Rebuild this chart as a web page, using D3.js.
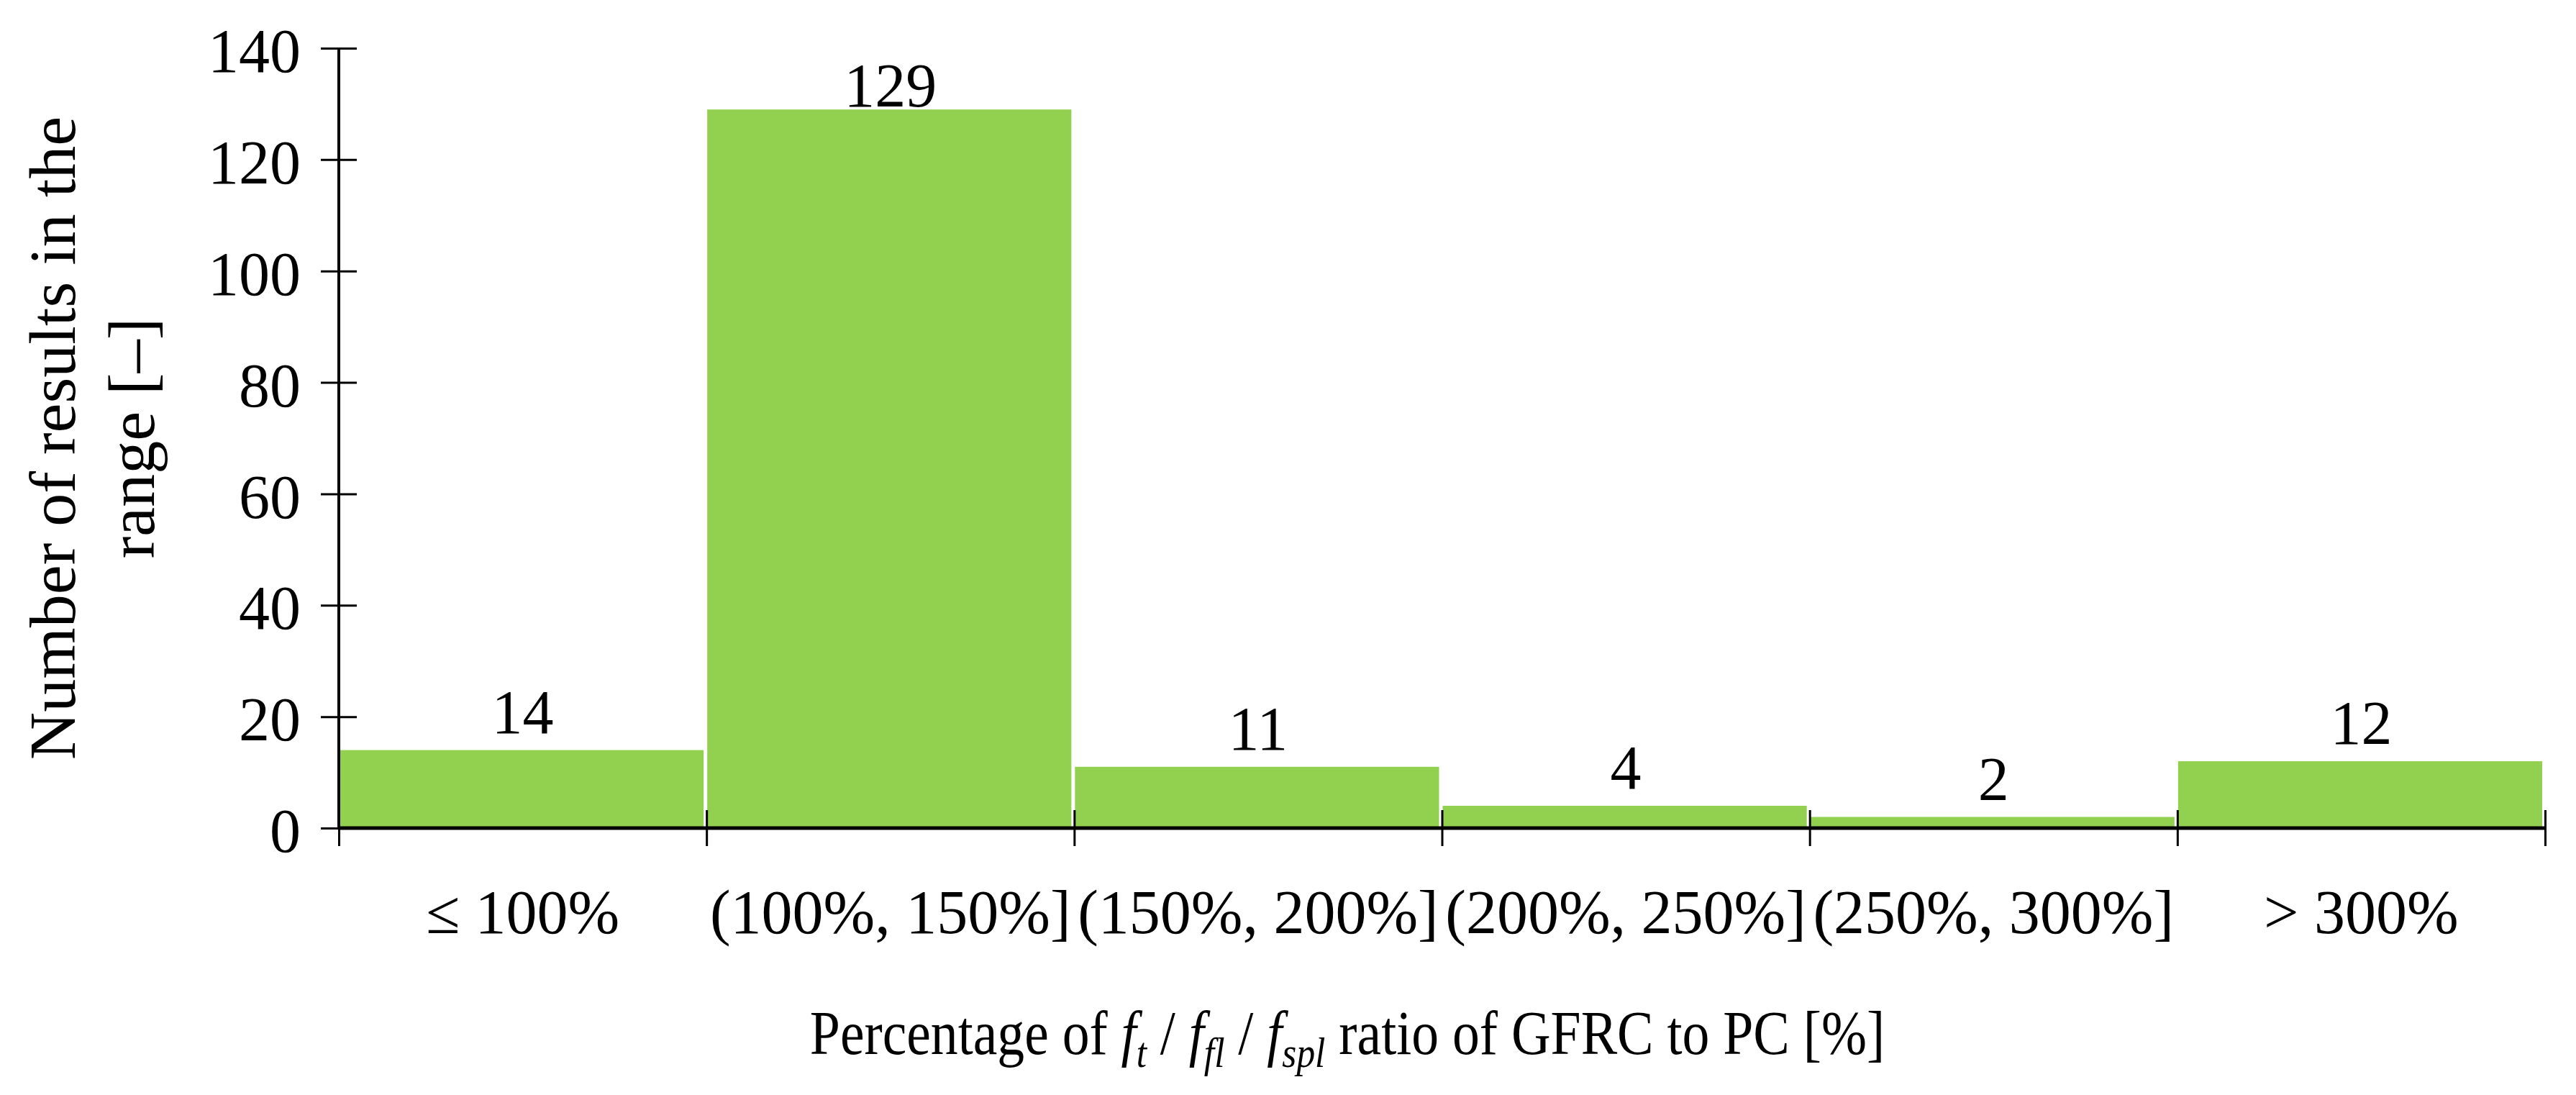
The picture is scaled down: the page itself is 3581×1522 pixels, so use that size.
<!DOCTYPE html>
<html>
<head>
<meta charset="utf-8">
<script src="https://cdn.jsdelivr.net/npm/d3@7"></script>
<style>
  html, body { margin: 0; padding: 0; background: #fff; }
  svg { display: block; font-family: 'Palatino Linotype', 'Book Antiqua', Palatino, 'Liberation Serif', serif; }
</style>
</head>
<body>
<svg id="chart"></svg>
<script>
const categories = ['≤ 100%', '(100%, 150%]', '(150%, 200%]', '(200%, 250%]', '(250%, 300%]', '> 300%'];
const counts = [14, 129, 11, 4, 2, 12];
const yTickValues = [0, 20, 40, 60, 80, 100, 120, 140];
const boundaries = [0, 1, 2, 3, 4, 5, 6];

function drawHistogram(id) {
  const totalWidth = 3581;
  const totalHeight = 1522;
  const margin = { top: 67, right: 43, bottom: 371, left: 471 };
  const width = totalWidth - margin.left - margin.right;
  const height = totalHeight - margin.top - margin.bottom;
  const FONT_SIZE = 86;
  const BAR_COLOR = '#92D050';
  const LABEL_MIN_Y = 81; // labels are kept inside the plot area

  const svg = d3.select(id)
    .attr('width', totalWidth)
    .attr('height', totalHeight)
    .attr('viewBox', `0 0 ${totalWidth} ${totalHeight}`);

  const xBand = d3.scaleBand(categories, [0, width]).padding(0);
  const xEdge = d3.scaleLinear([0, categories.length], [0, width]);
  const yScale = d3.scaleLinear([0, 140], [height, 0]);

  const g = svg.append('g').attr('transform', `translate(${margin.left}, ${margin.top})`);

  /* bars */
  g.selectAll('.bar')
    .data(counts)
    .enter()
    .append('rect')
    .attr('class', 'bar')
    .attr('fill', BAR_COLOR)
    .attr('x', (d, i) => xBand(categories[i]) + 1)
    .attr('width', xBand.bandwidth() - 5)
    .attr('y', (d) => yScale(d))
    .attr('height', (d) => height - yScale(d));

  /* value labels */
  g.selectAll('.value')
    .data(counts)
    .enter()
    .append('text')
    .attr('class', 'value')
    .attr('text-anchor', 'middle')
    .attr('font-size', FONT_SIZE)
    .attr('fill', '#000')
    .attr('x', (d, i) => xBand(categories[i]) + xBand.bandwidth() / 2)
    .attr('y', (d) => Math.max(yScale(d) - 24, LABEL_MIN_Y))
    .text((d) => d);

  /* left axis, ticks cross the line */
  const leftAxis = d3.axisLeft(yScale).tickValues(yTickValues).tickSize(25).tickPadding(28);
  const yAxisG = g.append('g').call(leftAxis).attr('font-family', null).attr('font-size', FONT_SIZE);
  yAxisG.select('.domain').remove();
  yAxisG.selectAll('.tick line').attr('x2', 25).attr('x1', -25).attr('stroke-width', 3);
  yAxisG.selectAll('.tick text')
    .attr('fill', '#000')
    .attr('x', -53)
    .attr('dy', '0.38em');
  yAxisG.append('line')
    .attr('stroke', '#000')
    .attr('stroke-width', 4)
    .attr('x1', 0).attr('x2', 0)
    .attr('y1', yScale(140)).attr('y2', height);

  /* bottom axis: bin boundaries */
  const edgeAxis = d3.axisBottom(xEdge).tickValues(boundaries).tickFormat('').tickSize(25);
  const xAxisG = g.append('g').attr('transform', `translate(0, ${height})`).call(edgeAxis);
  xAxisG.select('.domain').remove();
  xAxisG.selectAll('.tick line').attr('y1', -25).attr('y2', 25).attr('stroke-width', 3);
  xAxisG.append('line')
    .attr('stroke', '#000')
    .attr('stroke-width', 5)
    .attr('x1', 0).attr('x2', width)
    .attr('y1', 0).attr('y2', 0);

  /* bottom axis: category labels */
  const labelAxis = d3.axisBottom(xBand).tickSize(0).tickPadding(0);
  const labelG = g.append('g')
    .attr('transform', `translate(0, ${height})`)
    .call(labelAxis)
    .attr('font-family', null)
    .attr('font-size', FONT_SIZE);
  labelG.select('.domain').remove();
  labelG.selectAll('.tick text')
    .attr('fill', '#000')
    .attr('y', 146)
    .attr('dy', 0);

  /* y title, two lines */
  const yTitle = svg.append('text')
    .attr('font-size', 92)
    .attr('text-anchor', 'middle')
    .attr('transform', `translate(0, ${margin.top + height / 2}) rotate(-90)`);
  yTitle.append('tspan').attr('x', 0).attr('y', 104).text('Number of results in the');
  yTitle.append('tspan').attr('x', 0).attr('y', 214).text('range [–]');

  /* x title with italic subscripts */
  const xTitle = svg.append('text')
    .attr('font-size', FONT_SIZE)
    .attr('text-anchor', 'middle')
    .attr('transform', 'translate(1873, 1465) scale(0.88, 1)');
  const parts = [
    ['Percentage of ', false, false],
    ['f', true, false],
    ['t', true, true],
    [' / ', false, false],
    ['f', true, false],
    ['fl', true, true],
    [' / ', false, false],
    ['f', true, false],
    ['spl', true, true],
    [' ratio of GFRC to PC [%]', false, false]
  ];
  let sub = false;
  parts.forEach(([t, italic, isSub]) => {
    const ts = xTitle.append('tspan').text(t);
    if (italic) ts.attr('font-style', 'italic');
    if (isSub) ts.attr('font-size', FONT_SIZE * 0.68);
    if (isSub !== sub) ts.attr('dy', isSub ? 18 : -18);
    sub = isSub;
  });
}

drawHistogram('#chart');
</script>
</body>
</html>
